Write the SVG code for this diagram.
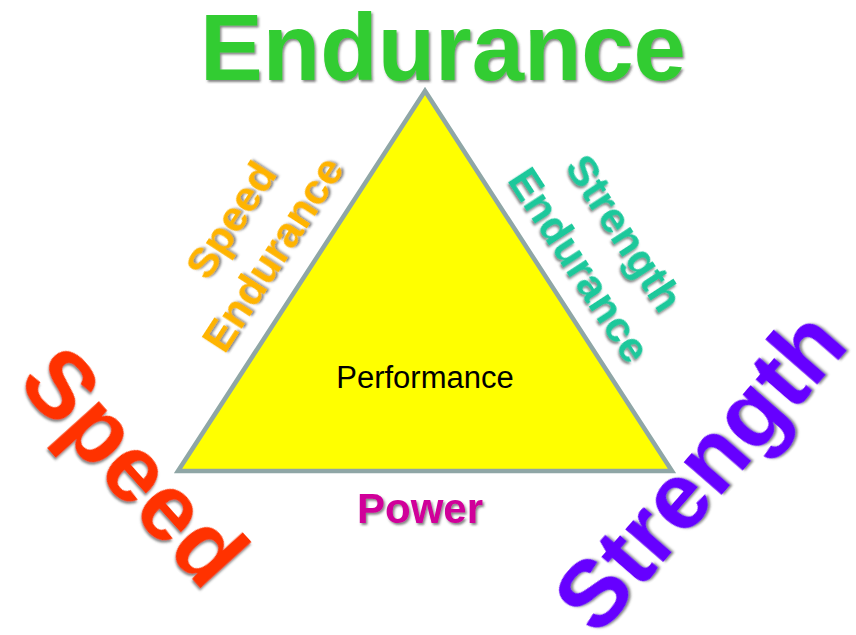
<svg xmlns="http://www.w3.org/2000/svg" width="856" height="635" viewBox="0 0 856 635">
<defs>
<filter id="sh" x="-10%" y="-10%" width="130%" height="130%">
<feDropShadow dx="1.5" dy="2" stdDeviation="1" flood-color="#333" flood-opacity="0.6"/>
</filter>
<style>
.t{font-family:"Liberation Sans",Arial,sans-serif;font-weight:bold;text-anchor:middle;filter:url(#sh)}
.big{font-size:94px}
.mid{font-size:43px}
</style>
</defs>
<rect width="856" height="635" fill="#ffffff"/>
<g id="triangle">
<polygon points="425,91 178,471 672,471" fill="#ffff00" stroke="#8fa6a6" stroke-width="4.5" stroke-linejoin="miter"/>
<text x="425" y="388" font-family="'Liberation Sans',Arial,sans-serif" font-size="31" text-anchor="middle" fill="#000">Performance</text>
</g>
<g id="endurance">
<text class="t big" x="443" y="80" fill="#33cc33">Endurance</text>
</g>
<g id="speed">
<text class="t big" transform="translate(110,488) rotate(48)" fill="#ff3300">Speed</text>
</g>
<g id="strength">
<text class="t big" transform="translate(724,492) rotate(-49)" fill="#6600ff">Strength</text>
</g>
<g id="speed-endurance">
<text class="t mid" transform="translate(243,228) rotate(-57)" fill="#ffb400">Speed</text>
<text class="t mid" transform="translate(285,262) rotate(-57)" fill="#ffb400">Endurance</text>
</g>
<g id="strength-endurance">
<text class="t mid" transform="translate(612,241) rotate(57)" fill="#1ac89b">Strength</text>
<text class="t mid" transform="translate(567,273) rotate(57)" fill="#1ac89b">Endurance</text>
</g>
<g id="power">
<text class="t" x="420" y="523" font-size="42" fill="#d0009a">Power</text>
</g>
</svg>
